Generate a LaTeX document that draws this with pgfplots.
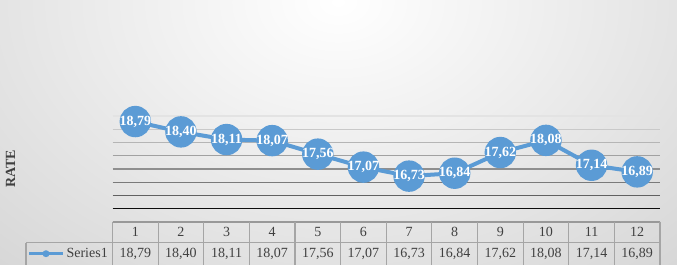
\documentclass[border=0pt]{standalone}
\usepackage{pgfplots}
\pgfplotsset{compat=1.18}
\usepackage{fontspec}
\setmainfont{Liberation Serif}
\definecolor{sblue}{RGB}{91,155,213}
\definecolor{tgrid}{RGB}{165,165,165}
\definecolor{ttext}{RGB}{64,64,64}
\begin{document}
\begin{tikzpicture}[x=1pt,y=1pt]
\begin{scope}
\clip (0,0) rectangle (677,264);
\shade[inner color=white, outer color=black!22] (338,262) ellipse (700 and 500);
\end{scope}
\begin{axis}[
  at={(112.5pt,55.3pt)}, anchor=south west,
  scale only axis, width=547.5pt, height=92.7pt,
  xmin=0.5, xmax=12.5, ymin=15.5, ymax=19,
  axis lines=none, clip=false,
  nodes near coords={\pgfmathprintnumber[use comma,fixed,fixed zerofill,precision=2,assume math mode=true]{\pgfplotspointmeta}},
  every node near coord/.append style={font=\fontsize{14}{16}\selectfont\bfseries, text=white, anchor=center, inner sep=0pt},
]
\draw[black!11, line width=1.4pt] (axis cs:0.5,19) -- (axis cs:12.5,19);
\draw[black!21, line width=1.4pt] (axis cs:0.5,18.5) -- (axis cs:12.5,18.5);
\draw[black!29, line width=1.4pt] (axis cs:0.5,18) -- (axis cs:12.5,18);
\draw[black!37, line width=1.4pt] (axis cs:0.5,17.5) -- (axis cs:12.5,17.5);
\draw[black!44, line width=1.4pt] (axis cs:0.5,17) -- (axis cs:12.5,17);
\draw[black!52, line width=1.4pt] (axis cs:0.5,16.5) -- (axis cs:12.5,16.5);
\draw[black!62, line width=1.4pt] (axis cs:0.5,16) -- (axis cs:12.5,16);
\draw[black!95, line width=1.5pt] (axis cs:0.5,15.5) -- (axis cs:12.5,15.5);
\addplot[sblue, line width=4pt, mark=*, mark size=13.7pt, mark options={fill=sblue, draw=none}]
coordinates {(1,18.79) (2,18.40) (3,18.11) (4,18.07) (5,17.56) (6,17.07) (7,16.73) (8,16.84) (9,17.62) (10,18.08) (11,17.14) (12,16.89)};
\end{axis}
% y label
\node[rotate=90, font=\fontsize{14}{16}\selectfont\bfseries, text=ttext] at (10.5,95) {RATE};
% data table
\draw[black!40, line width=2pt] (112.5,42.3) -- (660,42.3);
\draw[tgrid, line width=1.2pt] (26,21.3) -- (660,21.3);
\draw[tgrid, line width=1.2pt] (26,21.3) -- (26,-1);
\foreach \k in {0,...,12} {
  \pgfmathsetmacro\xx{112.5+\k*45.625}
  \draw[tgrid, line width=1.2pt] (\xx,42.3) -- (\xx,-1);
}
\foreach \i/\v in {1/{18,79},2/{18,40},3/{18,11},4/{18,07},5/{17,56},6/{17,07},7/{16,73},8/{16,84},9/{17,62},10/{18,08},11/{17,14},12/{16,89}} {
  \pgfmathsetmacro\xx{112.5+(\i-0.5)*45.625}
  \node[anchor=base, inner sep=0pt, font=\fontsize{14}{16}\selectfont, text=ttext] at (\xx,27.3) {\i};
  \node[anchor=base, inner sep=0pt, font=\fontsize{14}{16}\selectfont, text=ttext] at (\xx,6.5) {\v};
}
\draw[sblue, line width=3pt] (29,10.3) -- (63,10.3);
\fill[sblue] (46,10.3) circle (3.5);
\node[anchor=base east, inner sep=0pt, font=\fontsize{14}{16}\selectfont, text=ttext] at (108,6.5) {Series1};
\end{tikzpicture}
\end{document}
